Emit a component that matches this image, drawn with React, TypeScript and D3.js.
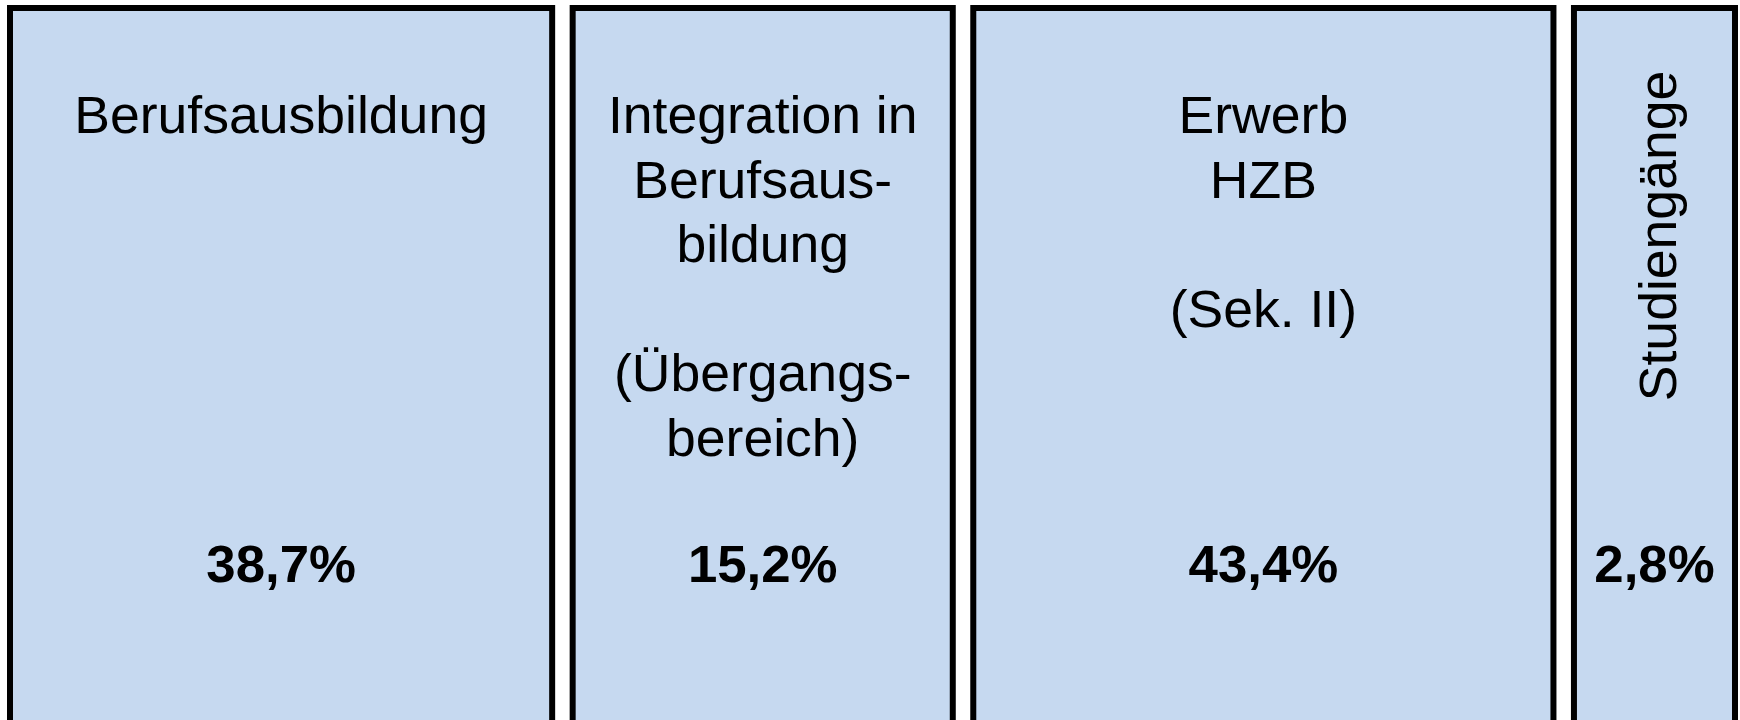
import React from "react";
import * as d3 from "d3";

// Bereiche des Ausbildungsgeschehens
const categories: string[] = [
  "Berufsausbildung",
  "Übergangsbereich",
  "Erwerb HZB",
  "Studiengänge",
];

// Anteile in %
const shares: number[] = [38.7, 15.2, 43.4, 2.8];

// Beschriftung je Kasten (leere Zeile = Abstand)
const labelLines: string[][] = [
  ["Berufsausbildung"],
  ["Integration in", "Berufsaus-", "bildung", "", "(Übergangs-", "bereich)"],
  ["Erwerb", "HZB", "", "(Sek. II)"],
  ["Studiengänge"],
];

// Kasten mit senkrechter Beschriftung
const verticalLabel: boolean[] = [false, false, false, true];

const App: React.FC = () => {
  const width = 1740;
  const height = 720;
  const left = 10;
  const right = 1735;
  const gap = 20.5;
  const top = 8;

  // relative Kastenbreiten der Vorlage (nicht flächenproportional)
  const boxUnits = [542, 380, 580, 161];

  const cumulative = d3.cumsum(boxUnits);
  const total = cumulative[cumulative.length - 1];
  const x = d3
    .scaleLinear()
    .domain([0, total])
    .range([left, right - gap * (boxUnits.length - 1)]);

  const boxes = categories.map((c, i) => {
    const start = i === 0 ? 0 : cumulative[i - 1];
    const x0 = x(start) + gap * i;
    const x1 = x(cumulative[i]) + gap * i;
    return { key: c, x0, x1, cx: (x0 + x1) / 2 };
  });

  const fmt = (v: number) => v.toFixed(1).replace(".", ",") + "%";

  const font = "'Liberation Sans', Arial, sans-serif";
  const lineHeight = 64.6;
  const firstBaseline = 133;
  const valueBaseline = 582;
  const stretch = 1.05; // Schrift der Vorlage ist leicht breiter

  return (
    <svg
      width={width}
      height={height}
      style={{ position: "absolute", left: 0, top: 0, background: "#ffffff" }}
    >
      {boxes.map((b, i) => (
        <g key={b.key}>
          <rect
            x={b.x0}
            y={top}
            width={b.x1 - b.x0}
            height={height + 40}
            fill="#c6d9f0"
            stroke="#000000"
            strokeWidth={6}
          />
          {verticalLabel[i] ? (
            <text
              transform={`translate(${b.cx + 22},236) rotate(-90) scale(${stretch},1)`}
              textAnchor="middle"
              fontFamily={font}
              fontSize={51}
              fill="#000000"
            >
              {labelLines[i][0]}
            </text>
          ) : (
            labelLines[i].map((line, j) =>
              line ? (
                <text
                  key={j}
                  transform={`translate(${b.cx},${firstBaseline + j * lineHeight}) scale(${stretch},1)`}
                  textAnchor="middle"
                  fontFamily={font}
                  fontSize={51}
                  fill="#000000"
                >
                  {line}
                </text>
              ) : null
            )
          )}
          <text
            transform={`translate(${b.cx},${valueBaseline}) scale(1.015,1)`}
            textAnchor="middle"
            fontFamily={font}
            fontSize={52}
            fontWeight="bold"
            fill="#000000"
          >
            {fmt(shares[i])}
          </text>
        </g>
      ))}
    </svg>
  );
};

export default App;
